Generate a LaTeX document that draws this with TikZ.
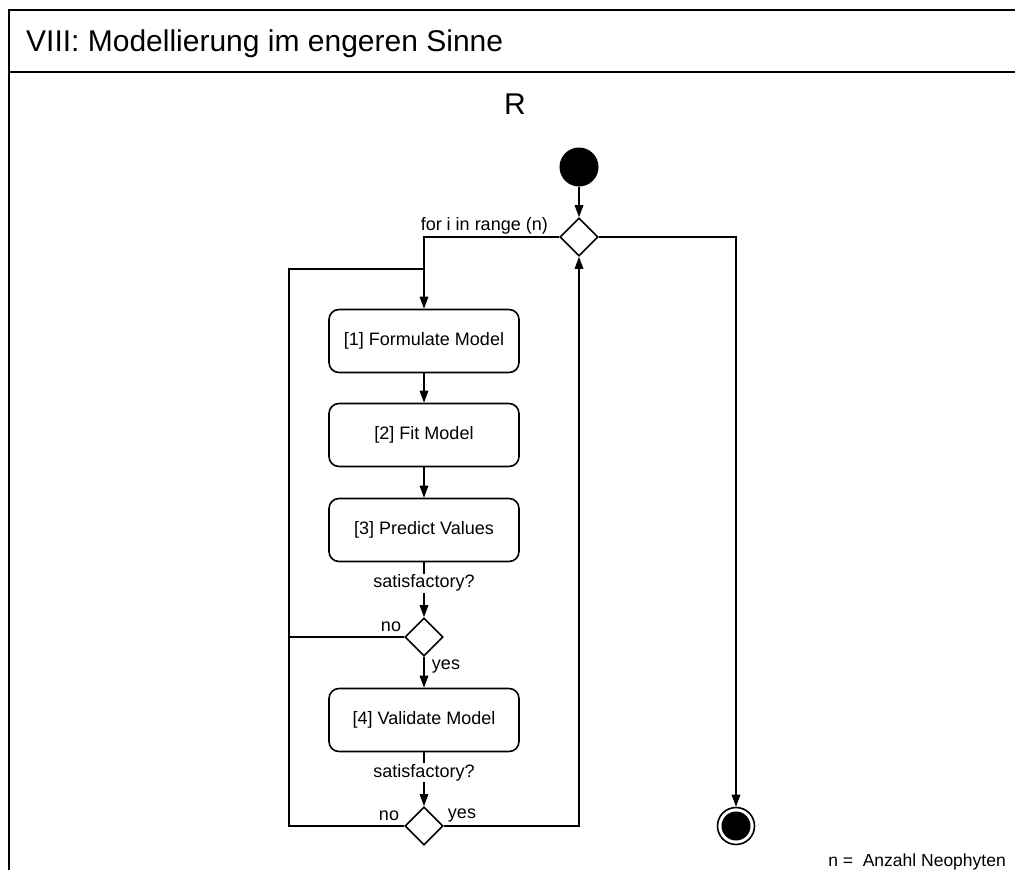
\documentclass[tikz,border=0pt]{standalone}
\usepackage{fontspec}
\setmainfont{Liberation Sans}
\usetikzlibrary{shapes.geometric,arrows.meta}
\newcommand{\labfont}{\fontsize{18}{21}\selectfont}
\newcommand{\headfont}{\fontsize{30}{34}\selectfont}
\tikzset{
  actbox/.style={draw,rounded corners=10pt,line width=1.6pt,minimum width=190pt,minimum height=63pt,font=\labfont},
  decide/.style={draw,diamond,line width=1.6pt,inner sep=0pt,minimum width=38pt,minimum height=38pt},
  startnode/.style={circle,fill,inner sep=0pt,minimum size=39pt},
  endnode/.style={circle,draw,line width=1.6pt,inner sep=0pt,minimum size=37pt,
    path picture={\fill (path picture bounding box.center) circle (14.5pt);}},
  txt/.style={inner sep=1pt,font=\labfont},
  line/.style={line width=1.6pt},
  flow/.style={line,-{Triangle[length=12pt,width=8.5pt]}}
}
\begin{document}
\begin{tikzpicture}[x=1pt,y=-1pt]
  \useasboundingbox (0,0) rectangle (1015,870);
  % frame
  \draw[line width=2pt] (1020,10) -- (9,10) -- (9,875);
  \draw[line width=2.6pt] (9,72) -- (1020,72);
  \node[anchor=base west,inner sep=0pt,font=\headfont] (title) at (26,51) {VIII: Modellierung im engeren Sinne};
  \node[anchor=base,inner sep=0pt,font=\headfont] (lang) at (515,114) {R};
  % nodes
  \node[startnode] (start) at (579,167) {};
  \node[decide] (d1) at (579,237) {};
  \node[actbox] (a1) at (424,341) {[1] Formulate Model};
  \node[actbox] (a2) at (424,435) {[2] Fit Model};
  \node[actbox] (a3) at (424,530) {[3] Predict Values};
  \node[decide] (d2) at (424,637) {};
  \node[actbox] (a4) at (424,720) {[4] Validate Model};
  \node[decide] (d3) at (424,826) {};
  \node[endnode] (fin) at (736,826) {};
  \coordinate (lp) at (289,269);
  \coordinate (jn) at (424,269);
  % connectors
  \draw[flow] (start) -- (d1);
  \draw[flow] (d1.west) -| (a1.north);
  \draw[flow] (d1.east) -| (fin.north);
  \draw[flow] (a1) -- (a2);
  \draw[flow] (a2) -- (a3);
  \draw[flow] (a3) -- node[txt,fill=white,pos=0.38] (q1) {satisfactory?} (d2);
  \draw[flow] (d2) -- (a4);
  \draw[flow] (a4) -- node[txt,fill=white,pos=0.38] (q2) {satisfactory?} (d3);
  \draw[line] (d2.west) -- (d2.west -| lp);
  \draw[line] (d3.west) -| (lp) -- (jn);
  \draw[flow] (d3.east) -| (d1.south);
  % labels
  \node[txt,anchor=base east] (loop) at (549,230) {for i in range (n)};
  \node[txt] (no1) at (391,627) {no};
  \node[txt] (yes1) at (446,667) {yes};
  \node[txt] (no2) at (389,816) {no};
  \node[txt] (yes2) at (462,816) {yes};
  \node[txt,anchor=east,font=\fontsize{17.5}{20}\selectfont] (note) at (1007,862) {n =\ \ Anzahl Neophyten};
\end{tikzpicture}
\end{document}
